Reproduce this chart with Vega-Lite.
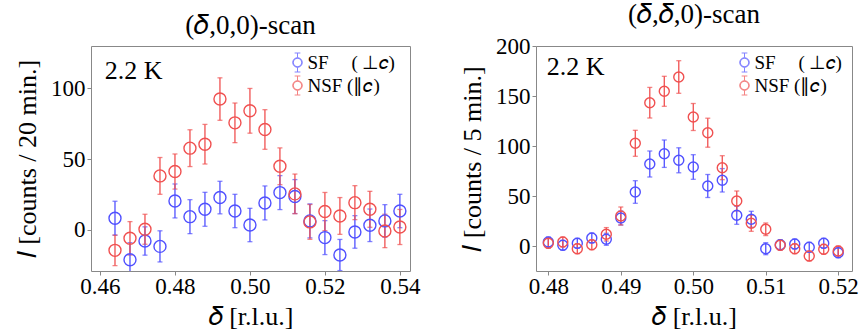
{
  "$schema": "https://vega.github.io/schema/vega-lite/v6.json",
  "padding": {"left": 14, "top": 0, "right": 0, "bottom": 0},
  "background": "white",
  "config": {
    "font": "Liberation Serif",
    "view": {"stroke": "#888888", "strokeWidth": 1},
    "axis": {"grid": false, "domain": false, "tickColor": "#888888", "tickSize": 4, "tickWidth": 1,
             "labelFont": "Liberation Serif", "labelFontSize": 23, "labelColor": "black", "labelPadding": 2,
             "titleFont": "Liberation Serif", "titleFontSize": 26, "titleFontWeight": "normal", "titleColor": "black"},
    "axisX": {"labelPadding": 0, "titlePadding": 5},
    "title": {"font": "Liberation Serif", "fontSize": 27, "fontWeight": "normal", "color": "black", "offset": 6},
    "legend": {"labelFont": "Liberation Serif", "labelFontSize": 19, "labelColor": "black"}
  },
  "datasets": {
    "scan1": [
      {"d": 0.464, "v": 8.3, "e": 12, "s": "SF"},
      {"d": 0.468, "v": -21, "e": 12, "s": "SF"},
      {"d": 0.472, "v": -7.8, "e": 10, "s": "SF"},
      {"d": 0.476, "v": -11.6, "e": 11, "s": "SF"},
      {"d": 0.480, "v": 20.5, "e": 12, "s": "SF"},
      {"d": 0.484, "v": 9.4, "e": 12, "s": "SF"},
      {"d": 0.488, "v": 14.6, "e": 12, "s": "SF"},
      {"d": 0.492, "v": 22.9, "e": 11.5, "s": "SF"},
      {"d": 0.496, "v": 13.4, "e": 11.8, "s": "SF"},
      {"d": 0.500, "v": 3.5, "e": 11.8, "s": "SF"},
      {"d": 0.504, "v": 19.1, "e": 12, "s": "SF"},
      {"d": 0.508, "v": 26.4, "e": 12, "s": "SF"},
      {"d": 0.512, "v": 23.6, "e": 12, "s": "SF"},
      {"d": 0.516, "v": 6.4, "e": 12, "s": "SF"},
      {"d": 0.520, "v": -5.4, "e": 12, "s": "SF"},
      {"d": 0.524, "v": -17.7, "e": 11, "s": "SF"},
      {"d": 0.528, "v": -1.4, "e": 11.5, "s": "SF"},
      {"d": 0.532, "v": 3.3, "e": 11.5, "s": "SF"},
      {"d": 0.536, "v": 6.4, "e": 11.5, "s": "SF"},
      {"d": 0.540, "v": 13.4, "e": 11.8, "s": "SF"},
      {"d": 0.464, "v": -14.4, "e": 10.8, "s": "NSF"},
      {"d": 0.468, "v": -5.9, "e": 11.8, "s": "NSF"},
      {"d": 0.472, "v": 0.5, "e": 10.6, "s": "NSF"},
      {"d": 0.476, "v": 38.2, "e": 13, "s": "NSF"},
      {"d": 0.480, "v": 41.3, "e": 12.4, "s": "NSF"},
      {"d": 0.484, "v": 57.8, "e": 13, "s": "NSF"},
      {"d": 0.488, "v": 60.6, "e": 14, "s": "NSF"},
      {"d": 0.492, "v": 92.5, "e": 15, "s": "NSF"},
      {"d": 0.496, "v": 75.7, "e": 14, "s": "NSF"},
      {"d": 0.500, "v": 84.2, "e": 15.8, "s": "NSF"},
      {"d": 0.504, "v": 71, "e": 14, "s": "NSF"},
      {"d": 0.508, "v": 45, "e": 13, "s": "NSF"},
      {"d": 0.512, "v": 25.5, "e": 14, "s": "NSF"},
      {"d": 0.516, "v": 5.7, "e": 12.3, "s": "NSF"},
      {"d": 0.520, "v": 13, "e": 13.5, "s": "NSF"},
      {"d": 0.524, "v": 9.9, "e": 13, "s": "NSF"},
      {"d": 0.528, "v": 19.3, "e": 12, "s": "NSF"},
      {"d": 0.532, "v": 14.6, "e": 12.7, "s": "NSF"},
      {"d": 0.536, "v": -0.7, "e": 11.8, "s": "NSF"},
      {"d": 0.540, "v": 2.1, "e": 12.4, "s": "NSF"}
    ],
    "scan2": [
      {"d": 0.480, "v": 4, "e": 5, "s": "SF"},
      {"d": 0.482, "v": 0.7, "e": 5, "s": "SF"},
      {"d": 0.484, "v": 2.7, "e": 5, "s": "SF"},
      {"d": 0.486, "v": 8, "e": 5, "s": "SF"},
      {"d": 0.488, "v": 6.7, "e": 6, "s": "SF"},
      {"d": 0.490, "v": 28, "e": 7, "s": "SF"},
      {"d": 0.492, "v": 54, "e": 11.3, "s": "SF"},
      {"d": 0.494, "v": 82, "e": 13, "s": "SF"},
      {"d": 0.496, "v": 92.3, "e": 13.7, "s": "SF"},
      {"d": 0.498, "v": 85.7, "e": 12.5, "s": "SF"},
      {"d": 0.500, "v": 79, "e": 12.3, "s": "SF"},
      {"d": 0.502, "v": 60, "e": 11.5, "s": "SF"},
      {"d": 0.504, "v": 65.7, "e": 11.7, "s": "SF"},
      {"d": 0.506, "v": 30.7, "e": 9, "s": "SF"},
      {"d": 0.508, "v": 26.7, "e": 8, "s": "SF"},
      {"d": 0.510, "v": -2.7, "e": 6, "s": "SF"},
      {"d": 0.512, "v": 1.3, "e": 5, "s": "SF"},
      {"d": 0.514, "v": 2, "e": 5, "s": "SF"},
      {"d": 0.516, "v": -1.3, "e": 5, "s": "SF"},
      {"d": 0.518, "v": 2.7, "e": 5, "s": "SF"},
      {"d": 0.520, "v": -6.7, "e": 5, "s": "SF"},
      {"d": 0.480, "v": 2.7, "e": 5, "s": "NSF"},
      {"d": 0.482, "v": 4, "e": 5, "s": "NSF"},
      {"d": 0.484, "v": -2.7, "e": 5, "s": "NSF"},
      {"d": 0.486, "v": 1.3, "e": 5, "s": "NSF"},
      {"d": 0.488, "v": 11.7, "e": 6.7, "s": "NSF"},
      {"d": 0.490, "v": 30, "e": 9, "s": "NSF"},
      {"d": 0.492, "v": 102.7, "e": 13, "s": "NSF"},
      {"d": 0.494, "v": 143.3, "e": 15.3, "s": "NSF"},
      {"d": 0.496, "v": 154.7, "e": 15, "s": "NSF"},
      {"d": 0.498, "v": 169, "e": 16.3, "s": "NSF"},
      {"d": 0.500, "v": 129, "e": 13.5, "s": "NSF"},
      {"d": 0.502, "v": 113.3, "e": 14.5, "s": "NSF"},
      {"d": 0.504, "v": 78.3, "e": 12, "s": "NSF"},
      {"d": 0.506, "v": 45, "e": 10, "s": "NSF"},
      {"d": 0.508, "v": 22.7, "e": 8, "s": "NSF"},
      {"d": 0.510, "v": 16.7, "e": 6.3, "s": "NSF"},
      {"d": 0.512, "v": 0.7, "e": 5, "s": "NSF"},
      {"d": 0.514, "v": -2.7, "e": 5, "s": "NSF"},
      {"d": 0.516, "v": -10, "e": 5, "s": "NSF"},
      {"d": 0.518, "v": -3.3, "e": 5, "s": "NSF"},
      {"d": 0.520, "v": -5, "e": 5, "s": "NSF"}
    ]
  },
  "resolve": {"legend": {"color": "independent"}, "scale": {"x": "independent", "y": "independent"}},
  "spacing": 38,
  "hconcat": [
    {
      "width": 319, "height": 225,
      "title": "(𝛿,0,0)-scan",
      "data": {"name": "scan1"},
      "layer": [
        {
          "mark": {"type": "errorbar", "clip": true, "thickness": 1.3, "ticks": {"size": 5, "thickness": 1.3}},
          "encoding": {
            "x": {"field": "d", "type": "quantitative", "scale": {"domain": [0.4576, 0.5427], "nice": false, "zero": false},
                  "axis": {"values": [0.46, 0.48, 0.50, 0.52, 0.54], "format": ".2f", "title": "𝛿 [r.l.u.]"}},
            "y": {"field": "v", "type": "quantitative", "scale": {"domain": [-29, 130], "nice": false, "zero": false},
                  "axis": {"values": [0, 50, 100], "title": "𝐼 [counts / 20 min.]", "titlePadding": 10}},
            "yError": {"field": "e"},
            "color": {"field": "s", "type": "nominal", "scale": {"domain": ["SF", "NSF"], "range": ["#5050ff", "#f05050"]}}
          }
        },
        {
          "mark": {"type": "point", "shape": "circle", "filled": false, "size": 144, "strokeWidth": 1.4, "opacity": 1, "clip": true},
          "encoding": {
            "x": {"field": "d", "type": "quantitative"},
            "y": {"field": "v", "type": "quantitative"},
            "color": {"field": "s", "type": "nominal", "scale": {"domain": ["SF", "NSF"], "range": ["#5050ff", "#f05050"]},
                      "legend": {"orient": "none", "legendX": 196.5, "legendY": 6.5, "title": null, "padding": 0, "rowPadding": -1,
                                 "labelExpr": "datum.label == 'SF' ? 'SF\u2003\u2009(\u2009⊥𝑐)' : 'NSF (∥𝑐)'",
                                 "symbolType": "M-0.3,-1H0.3M0,-1V-0.5M0.5,0C0.5,0.276,0.276,0.5,0,0.5C-0.276,0.5,-0.5,0.276,-0.5,0C-0.5,-0.276,-0.276,-0.5,0,-0.5C0.276,-0.5,0.5,-0.276,0.5,0ZM0.44,0C0.44,-0.243,0.243,-0.44,0,-0.44C-0.243,-0.44,-0.44,-0.243,-0.44,0C-0.44,0.243,-0.243,0.44,0,0.44C0.243,0.44,0.44,0.243,0.44,0ZM0,0.5V1M-0.3,1H0.3",
                                 "symbolSize": 361, "symbolStrokeWidth": 1, "symbolOpacity": 1, "symbolFillColor": "transparent", "labelOffset": 0,
                                 "encode": {"symbols": {"enter": {"fill": {"value": "transparent"}, "fillOpacity": {"value": 0}}, "update": {"fill": {"value": "transparent"}, "fillOpacity": {"value": 0}}}}}}
          }
        },
        {
          "data": {"values": [{"t": "2.2 K"}]},
          "mark": {"type": "text", "align": "left", "baseline": "alphabetic", "fontSize": 26, "color": "black"},
          "encoding": {
            "x": {"datum": 0.4613, "type": "quantitative"},
            "y": {"datum": 107, "type": "quantitative"},
            "text": {"field": "t"}
          }
        }
      ]
    },
    {
      "width": 316, "height": 225,
      "title": "(𝛿,𝛿,0)-scan",
      "data": {"name": "scan2"},
      "layer": [
        {
          "mark": {"type": "errorbar", "clip": true, "thickness": 1.3, "ticks": {"size": 5, "thickness": 1.3}},
          "encoding": {
            "x": {"field": "d", "type": "quantitative", "scale": {"domain": [0.4783, 0.5219], "nice": false, "zero": false},
                  "axis": {"values": [0.48, 0.49, 0.50, 0.51, 0.52], "format": ".2f", "title": "𝛿 [r.l.u.]"}},
            "y": {"field": "v", "type": "quantitative", "scale": {"domain": [-25, 200], "nice": false, "zero": false},
                  "axis": {"values": [0, 50, 100, 150, 200], "title": "𝐼 [counts / 5 min.]", "titlePadding": 10}},
            "yError": {"field": "e"},
            "color": {"field": "s", "type": "nominal", "scale": {"domain": ["SF", "NSF"], "range": ["#5050ff", "#f05050"]}}
          }
        },
        {
          "mark": {"type": "point", "shape": "circle", "filled": false, "size": 100, "strokeWidth": 1.4, "opacity": 1, "clip": true},
          "encoding": {
            "x": {"field": "d", "type": "quantitative"},
            "y": {"field": "v", "type": "quantitative"},
            "color": {"field": "s", "type": "nominal", "scale": {"domain": ["SF", "NSF"], "range": ["#5050ff", "#f05050"]},
                      "legend": {"orient": "none", "legendX": 198.5, "legendY": 6.5, "title": null, "padding": 0, "rowPadding": -1,
                                 "labelExpr": "datum.label == 'SF' ? 'SF\u2003\u2009(\u2009⊥𝑐)' : 'NSF (∥𝑐)'",
                                 "symbolType": "M-0.3,-1H0.3M0,-1V-0.5M0.5,0C0.5,0.276,0.276,0.5,0,0.5C-0.276,0.5,-0.5,0.276,-0.5,0C-0.5,-0.276,-0.276,-0.5,0,-0.5C0.276,-0.5,0.5,-0.276,0.5,0ZM0.44,0C0.44,-0.243,0.243,-0.44,0,-0.44C-0.243,-0.44,-0.44,-0.243,-0.44,0C-0.44,0.243,-0.243,0.44,0,0.44C0.243,0.44,0.44,0.243,0.44,0ZM0,0.5V1M-0.3,1H0.3",
                                 "symbolSize": 361, "symbolStrokeWidth": 1, "symbolOpacity": 1, "symbolFillColor": "transparent", "labelOffset": 0,
                                 "encode": {"symbols": {"enter": {"fill": {"value": "transparent"}, "fillOpacity": {"value": 0}}, "update": {"fill": {"value": "transparent"}, "fillOpacity": {"value": 0}}}}}}
          }
        },
        {
          "data": {"values": [{"t": "2.2 K"}]},
          "mark": {"type": "text", "align": "left", "baseline": "alphabetic", "fontSize": 26, "color": "black"},
          "encoding": {
            "x": {"datum": 0.4798, "type": "quantitative"},
            "y": {"datum": 170.6, "type": "quantitative"},
            "text": {"field": "t"}
          }
        }
      ]
    }
  ]
}
